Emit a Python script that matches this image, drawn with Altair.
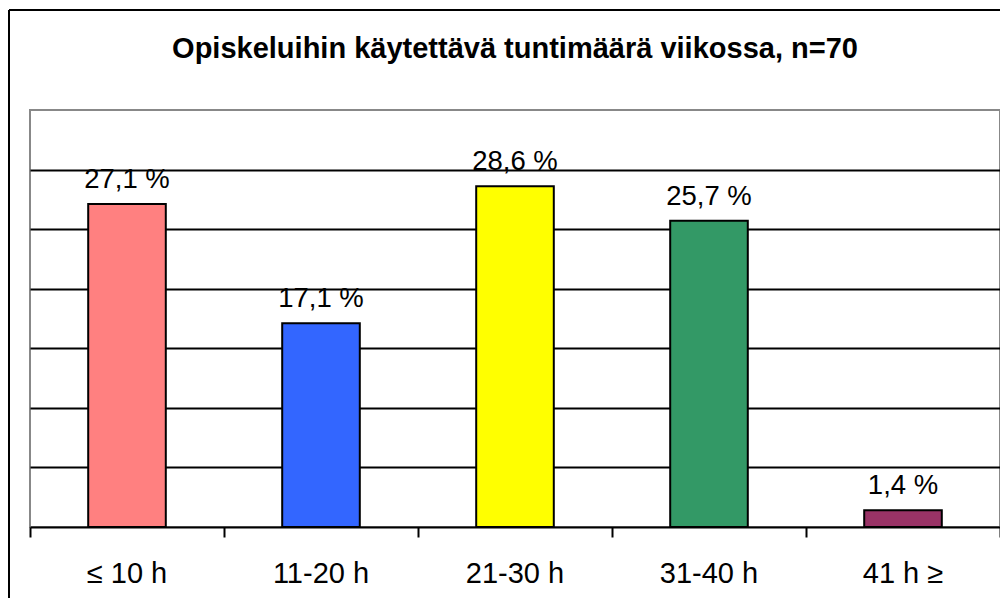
import altair as alt
import pandas as pd

categories = ["≤ 10 h", "11-20 h", "21-30 h", "31-40 h", "41 h ≥"]
values = [27.1, 17.1, 28.6, 25.7, 1.4]
colors = ["#FF8080", "#3366FF", "#FFFF00", "#339966", "#993366"]
labels = [f"{v:.1f} %".replace(".", ",") for v in values]
title_text = "Opiskeluihin käytettävä tuntimäärä viikossa, n=70"

df = pd.DataFrame({"cat": categories, "val": values, "color": colors, "label": labels})

W, H = 970, 417
FONT = "Liberation Sans"

x_enc = alt.X(
    "cat:N", sort=categories, title=None,
    scale=alt.Scale(paddingInner=0, paddingOuter=0),
    axis=alt.Axis(
        bandPosition=1, tickExtra=True,
        domainColor="black", domainWidth=2, tickColor="black", tickWidth=2,
        tickSize=10, labelFont=FONT, labelFontSize=29, labelColor="black",
        labelPadding=22, labelAngle=0,
    ),
)
y_enc = alt.Y(
    "val:Q", title=None,
    scale=alt.Scale(domain=[0, 35], nice=False),
    axis=alt.Axis(values=[5, 10, 15, 20, 25, 30], labels=False, ticks=False,
                  domain=False, grid=True, gridColor="black", gridWidth=2),
)

bars = alt.Chart(df).mark_bar(
    width=alt.RelativeBandSize(0.4), stroke="black", strokeWidth=2
).encode(x=x_enc, y=y_enc, fill=alt.Fill("color:N", scale=None))

texts = alt.Chart(df).mark_text(
    dy=-16, baseline="alphabetic", font=FONT, fontSize=27.5, color="black"
).encode(x=x_enc, y=y_enc, text="label:N")

frame_df = pd.DataFrame({"k": [0]})
left_line = alt.Chart(frame_df).mark_rule(color="black", strokeWidth=2).encode(
    x=alt.value(-21), y=alt.value(-100), y2=alt.value(H + 120)
)
top_line = alt.Chart(frame_df).mark_rule(color="black", strokeWidth=2).encode(
    x=alt.value(-21), x2=alt.value(W + 40), y=alt.value(-100)
)

chart = alt.layer(bars, texts, left_line, top_line).properties(
    width=W, height=H,
    padding={"left": 22, "top": 102, "right": 0, "bottom": 71},
    autosize=alt.AutoSizeParams(type="none"),
    title=alt.TitleParams(
        title_text, font=FONT, fontSize=29, fontWeight="bold", color="black",
        anchor="middle", baseline="alphabetic", offset=-78,
    ),
).configure(background="white").configure_view(stroke="#888888", strokeWidth=2)

chart.save("out.html", embed_options={"renderer": "svg", "actions": False})
